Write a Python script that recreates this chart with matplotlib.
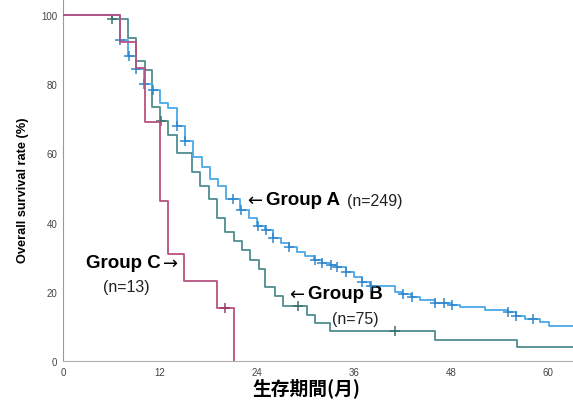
# Kaplan-Meier style overall survival chart, three groups
# step curves with censor marks, annotations next to each curve

import numpy as np
from matplotlib import pyplot as plt

# Data (months, survival %)

# Group A (n=249)
a_time = [0, 7.0, 8.1, 9.0, 10.0, 11.0, 12.0, 13.0, 14.1, 15.1, 16.1, 17.2, 18.2, 19.2,
          20.2, 21.9, 23.0, 24.0, 25.0, 26.0, 27.0, 28.0, 29.0, 30.0, 31.1, 32.0, 33.0,
          33.8, 35.0, 36.0, 37.0, 38.0, 41.1, 42.0, 43.0, 44.2, 46.0, 48.0, 49.1, 52.2,
          55.0, 56.0, 57.2, 59.0, 60.1]
a_surv = [100, 92.8, 88.0, 84.4, 80.0, 78.4, 74.5, 73.0, 68.0, 63.7, 58.9, 56.0, 52.6, 50.7,
          46.8, 43.5, 41.2, 38.9, 37.9, 35.6, 34.2, 32.9, 31.6, 30.4, 29.3, 28.3, 27.7,
          27.2, 25.6, 24.3, 22.9, 21.8, 19.8, 19.4, 18.4, 17.7, 16.9, 16.3, 15.5, 14.7,
          14.1, 13.1, 12.1, 11.2, 10.2]
a_cens = [7.0, 8.2, 9.0, 10.0, 11.1, 14.1, 15.1, 21.0, 22.0, 24.1, 25.1, 26.0, 28.0, 31.2,
          32.1, 33.1, 33.9, 35.0, 37.0, 38.1, 42.1, 43.2, 46.0, 47.1, 48.1, 55.0, 56.1, 58.2]

# Group B (n=75)
b_time = [0, 6.0, 8.1, 9.0, 10.1, 11.0, 12.0, 13.0, 14.1, 15.9, 17.0, 18.0, 19.0, 20.0,
          21.1, 22.1, 23.1, 24.2, 25.0, 26.2, 27.2, 30.2, 31.2, 33.0, 46.0, 56.2]
b_surv = [100, 98.7, 93.3, 86.7, 84.0, 73.3, 69.3, 65.3, 60.0, 54.7, 50.7, 46.7, 41.3, 37.3,
          34.7, 32.0, 29.3, 26.7, 21.3, 18.7, 16.0, 13.3, 10.9, 8.7, 6.2, 4.1]
b_cens = [6.1, 12.1, 29.1, 41.1]

# Group C (n=13)
c_time = [0, 7.0, 9.0, 10.1, 12.0, 13.0, 15.0, 19.1, 21.1]
c_surv = [100, 92.3, 84.6, 69.2, 46.2, 30.8, 23.1, 15.4, 0]
c_cens = [20.0]

x_ticks = [0, 12, 24, 36, 48, 60]
y_ticks = [0, 20, 40, 60, 80, 100]

col_a = '#4aa8e8'
col_b = '#4f8c8e'
col_c = '#b8507f'


def surv_at(times, surv, t):
    # value of the step curve at time t
    idx = np.searchsorted(times, t, side='right') - 1
    return surv[idx]


plt.rcParams['font.family'] = ['Liberation Sans', 'DejaVu Sans']

fig = plt.figure(figsize=(5.73, 4.02), dpi=100)
ax1 = fig.add_axes([0.110, 0.0995, 0.890, 0.9005])

x_end = 64
for t, s, cens, c, mc, z in [(a_time, a_surv, a_cens, col_a, '#2f86cc', 3),
                             (b_time, b_surv, b_cens, col_b, '#3d6f70', 2),
                             (c_time, c_surv, c_cens, col_c, '#9c3a68', 4)]:
    tt = list(t)
    ss = list(s)
    if ss[-1] > 0:
        tt.append(x_end)
        ss.append(ss[-1])
    ax1.step(tt, ss, where='post', color=c, linewidth=1.3, zorder=z)
    cy = [surv_at(np.array(t), np.array(s), ct) for ct in cens]
    ax1.plot(cens, cy, linestyle='none', marker='+', markersize=7,
             markeredgewidth=1.1, color=mc, zorder=z + 1)

ax1.set_xlim(0, 63.1)
ax1.set_ylim(0, 104.6)
ax1.set_xticks(x_ticks)
ax1.set_yticks(y_ticks)
ax1.tick_params(length=0, labelsize=7, labelcolor='#444444', pad=4)

for side in ['top', 'right']:
    ax1.spines[side].set_visible(False)
ax1.spines['left'].set_color('#9a9a9a')
ax1.spines['bottom'].set_color('#b0b0b0')

ax1.set_ylabel('Overall survival rate (%)', fontsize=9.2, fontweight='bold')
ax1.yaxis.set_label_coords(-0.067, 0.475)
ax1.set_xlabel('生存期間(月)', fontsize=13.5, fontweight='bold',
               family=['Noto Sans CJK JP', 'DejaVu Sans'])
ax1.xaxis.set_label_coords(0.478, -0.045)

# annotations
def px(x, y):
    # convert pixel position of reference into data coords
    return ((x - 63) / 8.08, (362 - y) / 3.46)

arrow_font = ['DejaVu Sans']
ax1.text(*px(247, 201), '←', fontsize=13, va='center', ha='left', family=arrow_font)
ax1.text(*px(266, 201), 'Group A', fontsize=13.5, fontweight='bold', va='center', ha='left')
ax1.text(*px(347, 202), '(n=249)', fontsize=11.5, va='center', ha='left', color='#222222')
ax1.text(*px(289, 295), '←', fontsize=13, va='center', ha='left', family=arrow_font)
ax1.text(*px(308, 295), 'Group B', fontsize=13.5, fontweight='bold', va='center', ha='left')
ax1.text(*px(332, 320), '(n=75)', fontsize=11.5, va='center', ha='left', color='#222222')
ax1.text(*px(86, 264), 'Group C', fontsize=13.5, fontweight='bold', va='center', ha='left')
ax1.text(*px(163, 264), '→', fontsize=13, va='center', ha='left', family=arrow_font)
ax1.text(*px(103, 288), '(n=13)', fontsize=11.5, va='center', ha='left', color='#222222')

plt.savefig('out.png', dpi=100)
